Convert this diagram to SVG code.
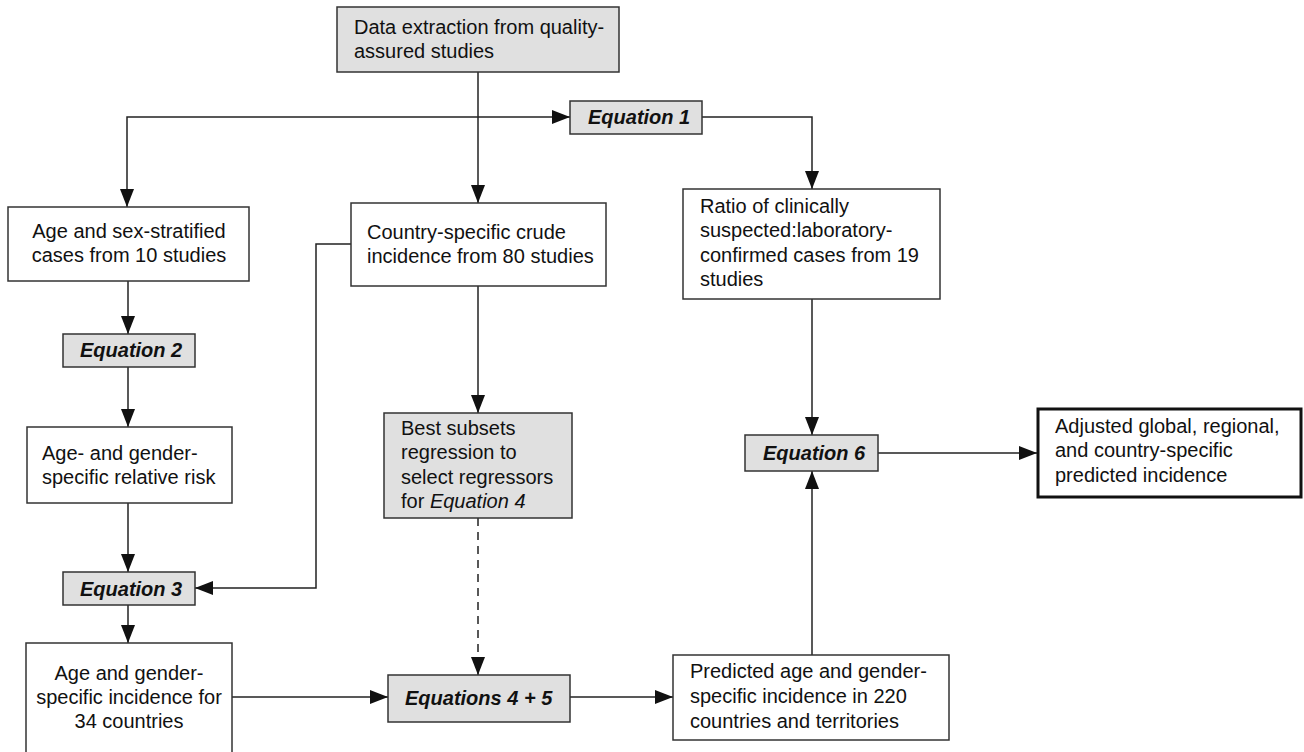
<svg xmlns="http://www.w3.org/2000/svg" width="1304" height="752" viewBox="0 0 1304 752">
<style>
.box{fill:#ffffff;stroke:#333333;stroke-width:1.5}
.gray{fill:#e0e0e0;stroke:#333333;stroke-width:1.5}
.thick{fill:#ffffff;stroke:#111111;stroke-width:3}
.t{font-family:"Liberation Sans",Arial,sans-serif;font-size:20px;fill:#111111}
.eq{font-family:"Liberation Sans",Arial,sans-serif;font-size:20px;font-weight:bold;font-style:italic;fill:#111111}
.c{text-anchor:middle}
.ln{fill:none;stroke:#222222;stroke-width:1.5;marker-end:url(#ah)}
.dash{stroke-dasharray:8,6}
</style>
<defs>
<marker id="ah" markerUnits="userSpaceOnUse" markerWidth="18" markerHeight="16" viewBox="0 0 18 16" refX="18" refY="8" orient="auto">
<path d="M0,1 L18,8 L0,15 Z" fill="#111111"/>
</marker>
</defs>
<rect width="1304" height="752" fill="#ffffff"/>
<g id="connectors">
<path class="ln" d="M478,72 V203"/>
<path class="ln" d="M478,117 H127 V207"/>
<path class="ln" d="M478,117 H570"/>
<path class="ln" d="M702,117 H812 V189"/>
<path class="ln" d="M128,281 V334"/>
<path class="ln" d="M128,367 V427"/>
<path class="ln" d="M128,503 V572"/>
<path class="ln" d="M351,244 H316 V588 H195"/>
<path class="ln" d="M128,605 V643"/>
<path class="ln" d="M232,697 H388"/>
<path class="ln" d="M478,286 V413"/>
<path class="ln dash" d="M478,518 V675"/>
<path class="ln" d="M570,697 H673"/>
<path class="ln" d="M812,299 V435"/>
<path class="ln" d="M812,655 V471"/>
<path class="ln" d="M878,453 H1037"/>
</g>
<g id="n-data">
<rect class="gray" x="337" y="7" width="282" height="65"/>
<text class="t" x="354" y="34">Data extraction from quality-</text>
<text class="t" x="354" y="58">assured studies</text>
</g>
<g id="n-eq1">
<rect class="gray" x="570" y="101" width="132" height="33"/>
<text class="eq" x="588" y="124">Equation 1</text>
</g>
<g id="n-agesex">
<rect class="box" x="8" y="207" width="241" height="74"/>
<text class="t c" x="129" y="238">Age and sex-stratified</text>
<text class="t c" x="129" y="262">cases from 10 studies</text>
</g>
<g id="n-country">
<rect class="box" x="351" y="203" width="255" height="83"/>
<text class="t" x="367" y="239">Country-specific crude</text>
<text class="t" x="367" y="263">incidence from 80 studies</text>
</g>
<g id="n-ratio">
<rect class="box" x="683" y="189" width="257" height="110"/>
<text class="t" x="700" y="213">Ratio of clinically</text>
<text class="t" x="700" y="237">suspected:laboratory-</text>
<text class="t" x="700" y="262">confirmed cases from 19</text>
<text class="t" x="700" y="286">studies</text>
</g>
<g id="n-eq2">
<rect class="gray" x="63" y="334" width="132" height="33"/>
<text class="eq" x="80" y="357">Equation 2</text>
</g>
<g id="n-rr">
<rect class="box" x="27" y="427" width="205" height="76"/>
<text class="t" x="42" y="460">Age- and gender-</text>
<text class="t" x="42" y="484">specific relative risk</text>
</g>
<g id="n-best">
<rect class="gray" x="384" y="413" width="188" height="105"/>
<text class="t" x="401" y="435">Best subsets</text>
<text class="t" x="401" y="459">regression to</text>
<text class="t" x="401" y="484">select regressors</text>
<text class="t" x="401" y="508">for <tspan font-style="italic">Equation 4</tspan></text>
</g>
<g id="n-eq6">
<rect class="gray" x="745" y="435" width="133" height="36"/>
<text class="eq" x="763" y="460">Equation 6</text>
</g>
<g id="n-adjusted">
<rect class="thick" x="1038" y="409" width="263" height="88"/>
<text class="t" x="1055" y="433">Adjusted global, regional,</text>
<text class="t" x="1055" y="457">and country-specific</text>
<text class="t" x="1055" y="482">predicted incidence</text>
</g>
<g id="n-eq3">
<rect class="gray" x="63" y="572" width="132" height="33"/>
<text class="eq" x="80" y="596">Equation 3</text>
</g>
<g id="n-inc34">
<rect class="box" x="26" y="643" width="206" height="115"/>
<text class="t c" x="129" y="680">Age and gender-</text>
<text class="t c" x="129" y="704">specific incidence for</text>
<text class="t c" x="129" y="728">34 countries</text>
</g>
<g id="n-eq45">
<rect class="gray" x="388" y="675" width="182" height="47"/>
<text class="eq" x="405" y="705">Equations 4 + 5</text>
</g>
<g id="n-predicted">
<rect class="box" x="673" y="655" width="276" height="85"/>
<text class="t" x="690" y="678">Predicted age and gender-</text>
<text class="t" x="690" y="703">specific incidence in 220</text>
<text class="t" x="690" y="728">countries and territories</text>
</g>
</svg>
